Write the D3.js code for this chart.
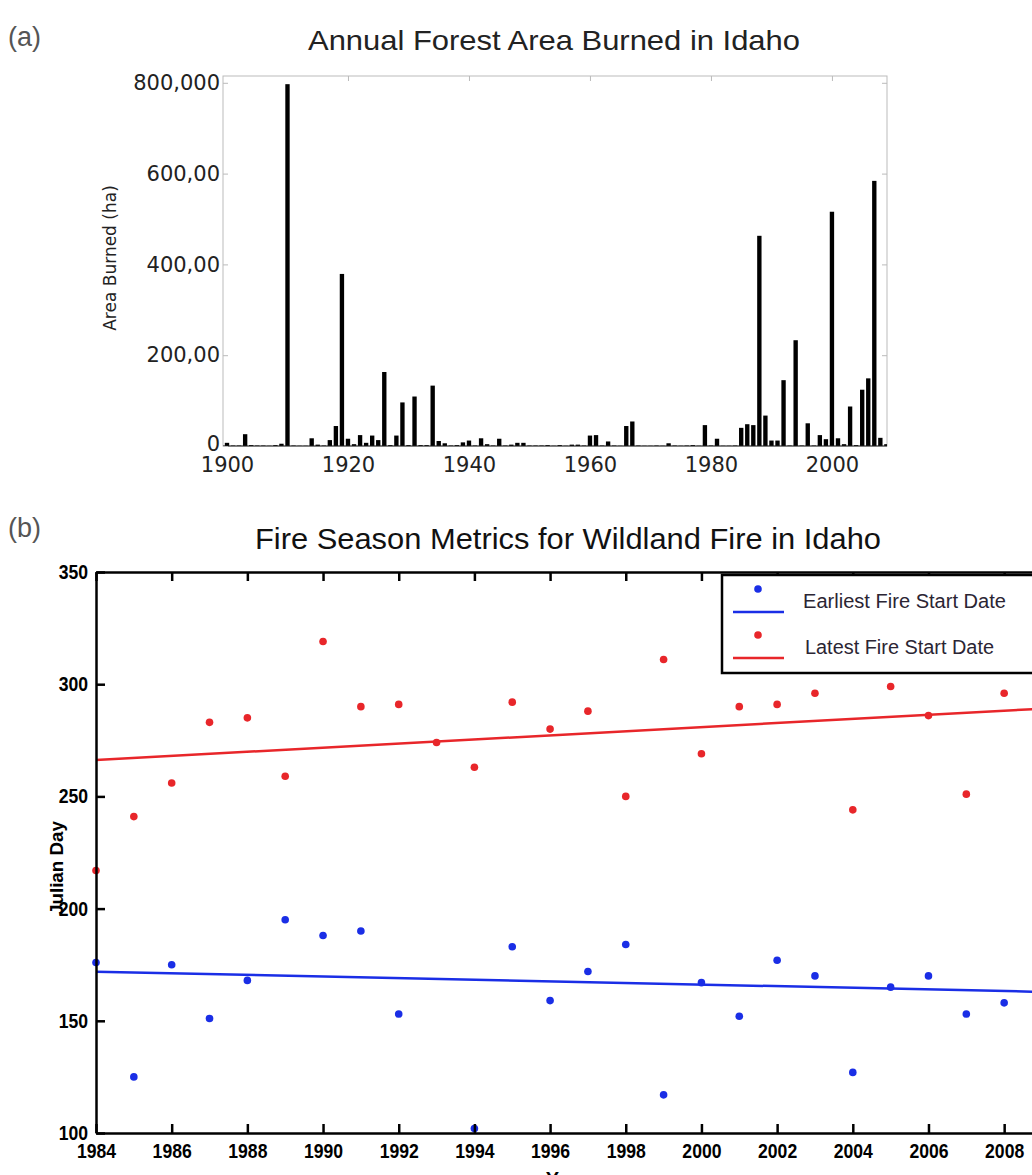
<!DOCTYPE html>
<html>
<head>
<meta charset="utf-8">
<script src="https://cdn.jsdelivr.net/npm/d3@7.9.0/dist/d3.min.js"></script>
<style>
  body { margin: 0; background: #fff; }
  svg { display: block; }
</style>
</head>
<body>
<svg id="chart" width="1032" height="1175"></svg>
<script>
// (a) annual forest area burned, thousand ha, one value per year 1900-2009
const areaYears = d3.range(1900, 2010);
const areaBurned = [
  7, 1, 1, 26, 2, 1, 1, 0.5, 2, 5,
  797, 1, 0.5, 0.5, 17, 3, 1, 13, 44, 379,
  16, 4, 24, 7, 23, 13, 163, 2, 23, 96,
  2, 109, 2, 2, 133, 11, 6, 1, 2, 8,
  12, 1, 17, 4, 1, 16, 1, 3, 7, 7,
  1, 1, 1, 2, 0.5, 2, 0.5, 3, 3, 1,
  23, 24, 1, 10, 1, 0.5, 44, 54, 1, 0.5,
  0.5, 1, 0.5, 6, 1, 0.5, 1, 2, 0.5, 46,
  1, 16, 0.5, 0.5, 1, 40, 48, 46, 463, 67,
  12, 12, 145, 1, 233, 1, 50, 1, 24, 15,
  516, 17, 4, 87, 2, 124, 149, 584, 18, 4
];
const areaTicks = [0, 200000, 400000, 600000, 800000];
const areaTickLabels = ["0", "200,00", "400,00", "600,00", "800,000"];
const areaYearTicks = [1900, 1920, 1940, 1960, 1980, 2000];

// (b) fire season metrics, Julian day
const fireYears = d3.range(1984, 2009);
const earliestStart = [176, 125, 175, 151, 168, 195, 188, 190, 153, null, 102, 183, 159,
  172, 184, 117, 167, 152, 177, 170, 127, 165, 170, 153, 158];
const latestStart = [217, 241, 256, 283, 285, 259, 319, 290, 291, 274, 263, 292, 280,
  288, 250, 311, 269, 290, 291, 296, 244, 299, 286, 251, 296];
const earliestTrend = [[1984, 171.9], [2009, 162.9]];
const latestTrend = [[1984, 266.2], [2009, 289.1]];
const dayTicks = [100, 150, 200, 250, 300, 350];
const fireYearTicks = [1984, 1986, 1988, 1990, 1992, 1994, 1996, 1998, 2000, 2002, 2004, 2006, 2008];
const legendItems = [
  { label: "Earliest Fire Start Date", color: "#1a2ee6" },
  { label: "Latest Fire Start Date", color: "#e8262a" }
];

const svg = d3.select("#chart");
svg.append("rect").attr("width", 1032).attr("height", 1175).attr("fill", "#fff");

// squeeze text horizontally (the source figure is slightly stretched)
function squeeze(sel, f) {
  sel.each(function () {
    const w = this.getComputedTextLength();
    d3.select(this).attr("textLength", w * f).attr("lengthAdjust", "spacingAndGlyphs");
  });
}
function fitWidth(sel, w) {
  sel.attr("textLength", w).attr("lengthAdjust", "spacingAndGlyphs");
}

// ---------- panel (a) ----------
const xA = d3.scaleLinear().domain([1899.34, 2009.1]).range([223, 887]);
const yA = d3.scaleLinear().domain([0, 815000]).range([446, 76]);
const pxPerYear = xA(1901) - xA(1900);

svg.append("text").attr("x", 8).attr("y", 46)
  .attr("font-family", "Liberation Sans, Arial, sans-serif").attr("font-size", 27)
  .attr("fill", "#555").text("(a)");

svg.append("text").attr("x", 554).attr("y", 50).attr("text-anchor", "middle")
  .attr("font-family", "Liberation Sans, Arial, sans-serif").attr("font-size", 28)
  .attr("fill", "#222").text("Annual Forest Area Burned in Idaho")
  .call(fitWidth, 492);

svg.append("defs").append("clipPath").attr("id", "clipA")
  .append("rect").attr("x", 223).attr("y", 76).attr("width", 664).attr("height", 371);

// frame
svg.append("rect").attr("x", 223).attr("y", 76).attr("width", 664).attr("height", 370)
  .attr("fill", "none").attr("stroke", "#bbb").attr("stroke-width", 1);

// bars
svg.append("g").attr("clip-path", "url(#clipA)")
  .selectAll("rect")
  .data(areaYears.map((y, i) => ({ year: y, value: areaBurned[i] * 1000 })))
  .join("rect")
  .attr("x", d => xA(d.year) - pxPerYear * 0.36)
  .attr("width", pxPerYear * 0.72)
  .attr("y", d => yA(d.value))
  .attr("height", d => yA(0) - yA(d.value))
  .attr("fill", "#000");

// baseline
svg.append("line").attr("x1", 223).attr("x2", 887).attr("y1", 446).attr("y2", 446)
  .attr("stroke", "#222").attr("stroke-width", 1);

const axisA = svg.append("g").attr("transform", "translate(223,0)")
  .call(d3.axisLeft(yA).tickValues(areaTicks)
    .tickFormat((d, i) => areaTickLabels[i]).tickSizeInner(-5).tickSizeOuter(0).tickPadding(3));
const axisAx = svg.append("g").attr("transform", "translate(0,446)")
  .call(d3.axisBottom(xA).tickValues(areaYearTicks).tickFormat(d3.format("d"))
    .tickSizeInner(0).tickSizeOuter(0).tickPadding(11));
[axisA, axisAx].forEach(g => {
  g.select(".domain").remove();
  g.selectAll(".tick line").attr("stroke", "#bbb");
  g.selectAll("text").attr("font-family", "DejaVu Sans, sans-serif")
    .attr("font-size", 21).attr("fill", "#222");
});
axisA.selectAll(".tick").filter(d => d === 0).select("text").attr("dy", "0.2em");
// top ticks and right ticks (frame ticks)
svg.append("g").attr("transform", "translate(0,76)")
  .call(d3.axisBottom(xA).tickValues(areaYearTicks.slice(1)).tickFormat("").tickSizeInner(5).tickSizeOuter(0))
  .call(g => g.select(".domain").remove())
  .call(g => g.selectAll(".tick line").attr("stroke", "#bbb"));
svg.append("g").attr("transform", "translate(887,0)")
  .call(d3.axisLeft(yA).tickValues(areaTicks.slice(1)).tickFormat("").tickSizeInner(5).tickSizeOuter(0))
  .call(g => g.select(".domain").remove())
  .call(g => g.selectAll(".tick line").attr("stroke", "#bbb"));

svg.append("text")
  .attr("transform", "translate(116,258) rotate(-90)")
  .attr("text-anchor", "middle")
  .attr("font-family", "DejaVu Sans, sans-serif").attr("font-size", 17)
  .attr("fill", "#222").text("Area Burned (ha)");

// ---------- panel (b) ----------
const xB = d3.scaleLinear().domain([1984, 2009]).range([96, 1042]);
const yB = d3.scaleLinear().domain([100, 350]).range([1133, 572]);

svg.append("text").attr("x", 8).attr("y", 537)
  .attr("font-family", "Liberation Sans, Arial, sans-serif").attr("font-size", 27)
  .attr("fill", "#555").text("(b)");

svg.append("text").attr("x", 568).attr("y", 549).attr("text-anchor", "middle")
  .attr("font-family", "Liberation Sans, Arial, sans-serif").attr("font-size", 30)
  .attr("fill", "#111").text("Fire Season Metrics for Wildland Fire in Idaho")
  .call(fitWidth, 626);

// trend lines
const line = d3.line().x(d => xB(d[0])).y(d => yB(d[1]));
svg.append("path").datum(latestTrend).attr("d", line)
  .attr("fill", "none").attr("stroke", "#e8262a").attr("stroke-width", 2.5);
svg.append("path").datum(earliestTrend).attr("d", line)
  .attr("fill", "none").attr("stroke", "#1a2ee6").attr("stroke-width", 2.5);

// points
svg.append("g").selectAll("circle")
  .data(fireYears.map((y, i) => ({ year: y, day: latestStart[i] })))
  .join("circle")
  .attr("cx", d => xB(d.year)).attr("cy", d => yB(d.day)).attr("r", 3.8)
  .attr("fill", "#e8262a");
svg.append("g").selectAll("circle")
  .data(fireYears.map((y, i) => ({ year: y, day: earliestStart[i] })).filter(d => d.day != null))
  .join("circle")
  .attr("cx", d => xB(d.year)).attr("cy", d => yB(d.day)).attr("r", 3.8)
  .attr("fill", "#1a2ee6");

// axes (MATLAB style box, ticks inward)
const boldAxis = g => {
  g.select(".domain").attr("stroke", "#000").attr("stroke-width", 2.5);
  g.selectAll(".tick line").attr("stroke", "#000").attr("stroke-width", 2.5);
  g.selectAll("text").attr("font-family", "Liberation Sans, Arial, sans-serif")
    .attr("font-weight", "bold").attr("font-size", 20).attr("fill", "#000");
};
svg.append("g").attr("transform", "translate(0,572)")
  .call(d3.axisTop(xB).tickValues(fireYearTicks).tickFormat("").tickSizeInner(-9).tickSizeOuter(0))
  .call(boldAxis);
svg.append("g").attr("transform", "translate(1042,0)")
  .call(d3.axisRight(yB).tickValues(dayTicks).tickFormat("").tickSizeInner(-9).tickSizeOuter(0))
  .call(boldAxis);
svg.append("g").attr("transform", "translate(0,1133)")
  .call(d3.axisBottom(xB).tickValues(fireYearTicks).tickFormat(d3.format("d"))
    .tickSizeInner(-9).tickSizeOuter(0).tickPadding(11))
  .call(boldAxis)
  .call(g => g.selectAll("text").call(squeeze, 0.88));
svg.append("g").attr("transform", "translate(96,0)")
  .call(d3.axisLeft(yB).tickValues(dayTicks).tickFormat(d3.format("d"))
    .tickSizeInner(-9).tickSizeOuter(0).tickPadding(8))
  .call(boldAxis)
  .call(g => g.selectAll("text").call(squeeze, 0.88));

svg.append("text")
  .attr("transform", "translate(63,868) rotate(-90)")
  .attr("text-anchor", "middle")
  .attr("font-family", "Liberation Sans, Arial, sans-serif").attr("font-weight", "bold")
  .attr("font-size", 19).attr("fill", "#000").text("Julian Day")
  .call(fitWidth, 94);

svg.append("text").attr("x", 567).attr("y", 1186).attr("text-anchor", "middle")
  .attr("font-family", "Liberation Sans, Arial, sans-serif").attr("font-weight", "bold")
  .attr("font-size", 20).attr("fill", "#000").text("Year");

// legend
const legend = svg.append("g").attr("transform", "translate(722,575)");
legend.append("rect").attr("width", 330).attr("height", 98)
  .attr("fill", "#fff").attr("stroke", "#000").attr("stroke-width", 2.5);
const item = legend.selectAll("g.item").data(legendItems).join("g")
  .attr("class", "item")
  .attr("transform", (d, i) => `translate(0,${i * 46})`);
item.append("circle").attr("cx", 36).attr("cy", 14).attr("r", 3.8).attr("fill", d => d.color);
item.append("line").attr("x1", 11).attr("x2", 62).attr("y1", 37).attr("y2", 37)
  .attr("stroke", d => d.color).attr("stroke-width", 2.5);
item.append("text").attr("x", (d, i) => 81 + i * 2).attr("y", 33)
  .attr("font-family", "Liberation Sans, Arial, sans-serif").attr("font-size", 20)
  .attr("fill", "#2b2533").text(d => d.label)
  .each(function (d, i) { d3.select(this).call(fitWidth, i === 0 ? 203 : 189); });
</script>
</body>
</html>
